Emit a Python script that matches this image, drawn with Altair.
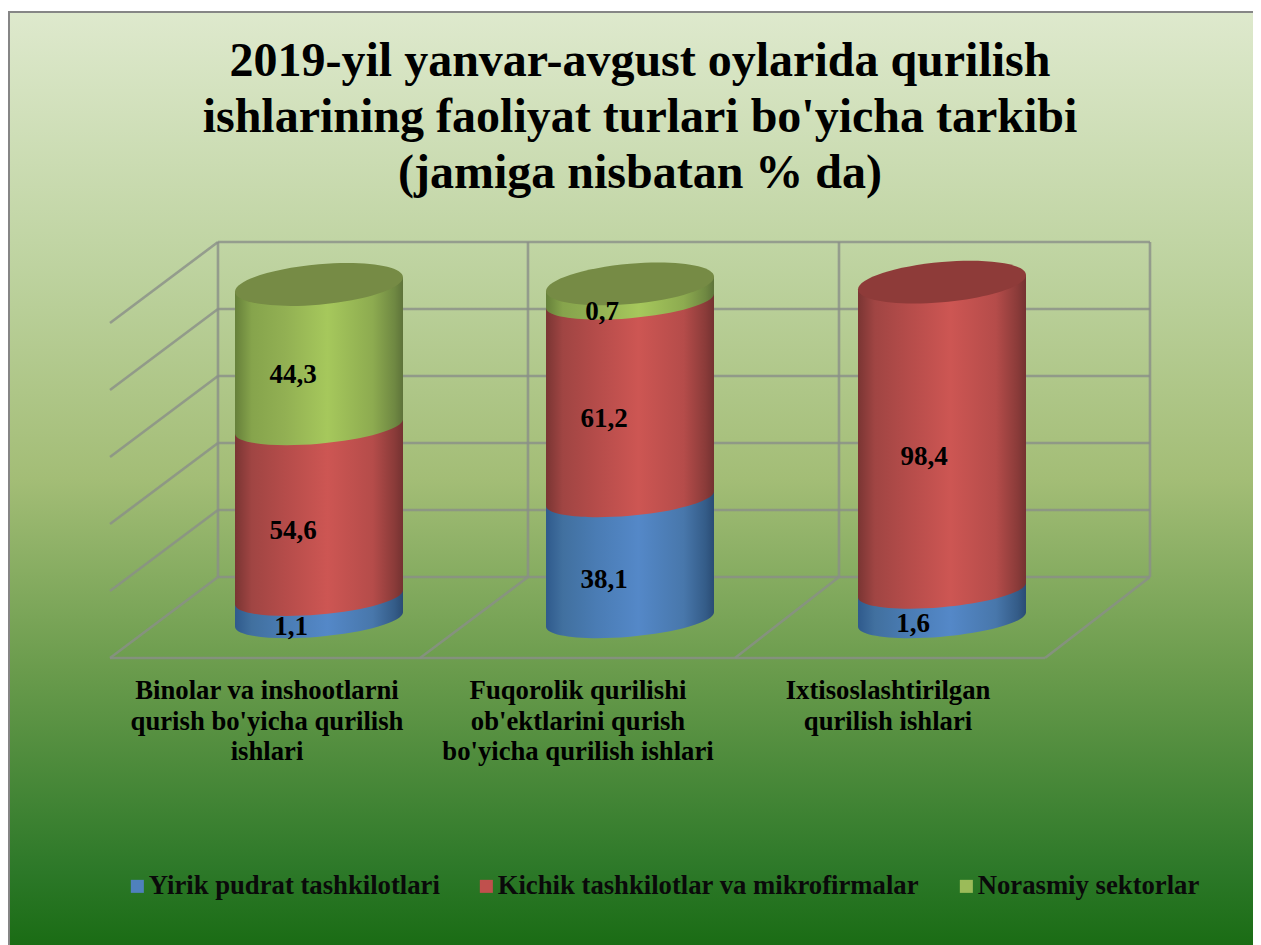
import altair as alt
import pandas as pd

# ---------- chart values ----------
title_lines = ["2019-yil yanvar-avgust  oylarida qurilish",
               "ishlarining faoliyat turlari bo'yicha tarkibi",
               "(jamiga nisbatan % da)"]
categories = ["Binolar va inshootlarni\nqurish bo'yicha qurilish\nishlari",
              "Fuqorolik qurilishi\nob'ektlarini qurish\nbo'yicha qurilish ishlari",
              "Ixtisoslashtirilgan\nqurilish ishlari"]
series = ["Yirik pudrat tashkilotlari", "Kichik tashkilotlar va mikrofirmalar", "Norasmiy sektorlar"]
# printed data labels
labels_blue = ["1,1", "38,1", "1,6"]
labels_red = ["54,6", "61,2", "98,4"]
labels_green = ["44,3", "0,7", ""]
# segment heights as drawn in the picture (the picture does not follow the printed labels)
drawn_blue = [6.6, 36.1, 8.8]
drawn_red = [51.0, 59.0, 91.9]
drawn_green = [42.4, 5.1, 0.0]
legend_colors = ["#4f81bd", "#c0504d", "#9bbb59"]
wall_ticks = [0, 20, 40, 60, 80, 100]

# ---------- scene set-up ----------
W, H = 1245, 937
XMIN, XMAX = 8, 1253
PX = 3.35                     # pixels per percent
Y0 = 577                      # image row of value 0 on the back wall
v = lambda py: (Y0 - py) / PX
YDOM = [v(945), v(8)]
FONT = "Liberation Serif"
DEPTH = v(577) - v(658)
BASE = v(619.5)
CENTERS = [319, 630, 942]
HALF = 84
TILT = 7.2 / PX
K = 7.2 / HALF
# small label shifts seen in the picture (x px, y px)
LABEL_NUDGE = {"98,4": (8, 2), "1,6": (-3, 0), "0,7": (-2, 1), "1,1": (-2, 0), "38,1": (0, 2)}


def ellipse_path(b):
    c = 0.5523
    pts = [(1, 0), (1, c), (c, 1), (0, 1), (-c, 1), (-1, c), (-1, 0), (-1, -c), (-c, -1),
           (0, -1), (c, -1), (1, -c), (1, 0)]
    t = [(round(x, 4), round(b * y - K * x, 4)) for x, y in pts]
    s = f"M{t[0][0]},{t[0][1]}"
    for i in range(1, 13, 3):
        s += "C" + " ".join(f"{a},{q}" for a, q in t[i:i + 3])
    return s + "Z"


SHAPE_TOP = ellipse_path(0.24)
SHAPE_BOTTOM = ellipse_path(0.205)
SIZE = (2 * HALF) ** 2


def grad(stops):
    return alt.Gradient(gradient="linear", x1=0, x2=1, y1=0, y2=0,
                        stops=[alt.GradientStop(offset=o, color=c) for o, c in stops])


BLUE = grad([(0, "#2f5a8c"), (0.1, "#41709f"), (0.3, "#4a7cb4"), (0.55, "#5488c8"), (0.82, "#4877ab"), (0.95, "#345c88"), (1, "#2a4c74")])
RED = grad([(0, "#7a3533"), (0.1, "#a04543"), (0.3, "#b54c4a"), (0.55, "#cd5653"), (0.82, "#b54c4a"), (0.95, "#8a3b39"), (1, "#743231")])
GREEN = grad([(0, "#66803a"), (0.1, "#86a44c"), (0.3, "#92b053"), (0.55, "#a6c85c"), (0.82, "#8dab50"), (0.95, "#6f8842"), (1, "#5e733a")])
BG = alt.Gradient(gradient="linear", x1=0, x2=0, y1=0, y2=1, stops=[
    alt.GradientStop(offset=0, color="#dee9cd"),
    alt.GradientStop(offset=0.27, color="#bed3a0"),
    alt.GradientStop(offset=0.5, color="#a3bd76"),
    alt.GradientStop(offset=0.7, color="#6b9c4d"),
    alt.GradientStop(offset=0.92, color="#2c7828"),
    alt.GradientStop(offset=1, color="#1a6c14")])

X = lambda f="x": alt.X(f"{f}:Q", scale=alt.Scale(domain=[XMIN, XMAX], nice=False, zero=False), axis=None)
Y = lambda f="y": alt.Y(f"{f}:Q", scale=alt.Scale(domain=YDOM, nice=False, zero=False), axis=None)

# ---------- background ----------
background = alt.Chart(pd.DataFrame({"a": [0]})).mark_rect(
    color=BG, stroke="#868686", strokeWidth=2
).encode(x=alt.value(1), x2=alt.value(1300), y=alt.value(4), y2=alt.value(H + 2))

# ---------- walls and floor ----------
wall_x = [218, 528, 839, 1150]
floor_x = [110, 420, 735, 1045]
lines = []
for t in wall_ticks:
    lines.append(dict(x=wall_x[0], x2=wall_x[-1], y=t, y2=t))
    lines.append(dict(x=wall_x[0], x2=floor_x[0], y=t, y2=t - DEPTH))
for wx in wall_x:
    lines.append(dict(x=wx, x2=wx, y=0, y2=100))
for wx, fx in zip(wall_x[1:], floor_x[1:]):
    lines.append(dict(x=wx, x2=fx, y=0, y2=-DEPTH))
lines.append(dict(x=floor_x[0], x2=floor_x[-1], y=-DEPTH, y2=-DEPTH))
grid = alt.Chart(pd.DataFrame(lines)).mark_rule(color="#8a8f88", strokeWidth=2.6, opacity=0.8).encode(
    x=X(), x2="x2:Q", y=Y(), y2="y2:Q")

# ---------- cylinders ----------
stack_rows = {"blue": [], "red": [], "green": []}
label_rows = []
tops = []
for i, cx in enumerate(CENTERS):
    bottom = BASE
    for key, drawn, lab in (("blue", drawn_blue, labels_blue), ("red", drawn_red, labels_red),
                            ("green", drawn_green, labels_green)):
        h = drawn[i]
        if h <= 0:
            continue
        top = bottom + h
        stack_rows[key].append(dict(seg=i, cx=cx, x=cx - HALF, y=top - TILT, y2=bottom - TILT, bottom=bottom))
        stack_rows[key].append(dict(seg=i, cx=cx, x=cx + HALF, y=top + TILT, y2=bottom + TILT, bottom=bottom))
        nx, ny = LABEL_NUDGE.get(lab[i], (0, 0))
        label_rows.append(dict(x=cx + nx, y=(top + bottom) / 2 - ny / PX, label=lab[i]))
        bottom = top
    tops.append(dict(x=cx, y=bottom, key="green" if drawn_green[i] > 0 else "red"))

layers = [background, grid]
for key, fill in (("blue", BLUE), ("red", RED), ("green", GREEN)):
    df = pd.DataFrame(stack_rows[key])
    layers.append(alt.Chart(df).mark_area(color=fill, interpolate="linear").encode(
        x=X(), y=Y(), y2="y2:Q", detail="seg:N"))
    caps = df.drop_duplicates("seg")
    layers.append(alt.Chart(caps).mark_point(filled=True, shape=SHAPE_BOTTOM, size=SIZE, fill=fill, opacity=1, strokeWidth=0).encode(
        x=X("cx"), y=Y("bottom")))

tops_df = pd.DataFrame(tops)
for key, col in (("green", "#768b45"), ("red", "#8e3b39")):
    layers.append(alt.Chart(tops_df[tops_df.key == key]).mark_point(
        filled=True, shape=SHAPE_TOP, size=SIZE, fill=col, opacity=1, strokeWidth=0).encode(x=X(), y=Y()))

# ---------- text ----------
data_labels = alt.Chart(pd.DataFrame(label_rows)).mark_text(
    font=FONT, fontWeight="bold", fontSize=27, color="black", dx=-26, dy=19, baseline="middle"
).encode(x=X(), y=Y(), text="label:N")

cat_df = pd.DataFrame({"x": [267, 578, 888], "y": [v(678)] * 3, "label": categories})
cat_labels = alt.Chart(cat_df).mark_text(
    font=FONT, fontWeight="bold", fontSize=26.7, color="black", lineBreak="\n", lineHeight=30.5, baseline="top"
).encode(x=X(), y=Y(), text="label:N")

# ---------- legend ----------
legend_layer = alt.Chart(pd.DataFrame({"x": [300] * 3, "y": [0] * 3, "series": series})).mark_point(
    filled=True, opacity=0
).encode(
    x=X(), y=Y(),
    color=alt.Color("series:N", scale=alt.Scale(domain=series, range=legend_colors),
                    legend=alt.Legend(title=None, orient="none", legendX=116, legendY=865, columns=3,
                                      gridAlign="none", columnPadding=33, symbolType="square",
                                      symbolSize=170, symbolOpacity=1, symbolStrokeWidth=0,
                                      labelOffset={"expr": "-2"},
                                      labelFont=FONT, labelFontWeight="bold", labelFontSize=26.7,
                                      labelColor="#0a0a0a", labelLimit=1000)))

chart = alt.layer(*layers, data_labels, cat_labels, legend_layer).properties(
    width=W, height=H, padding=0, autosize=alt.AutoSizeParams(type="none"),
    background="white",
    title=alt.TitleParams(text=title_lines, font=FONT, fontWeight="bold", fontSize=48, color="black",
                          anchor="middle", dx=9.5, dy=189.5, lineHeight=56, offset=0)
).configure_view(stroke=None)

chart.save("out.html", embed_options={"renderer": "svg", "actions": False})
